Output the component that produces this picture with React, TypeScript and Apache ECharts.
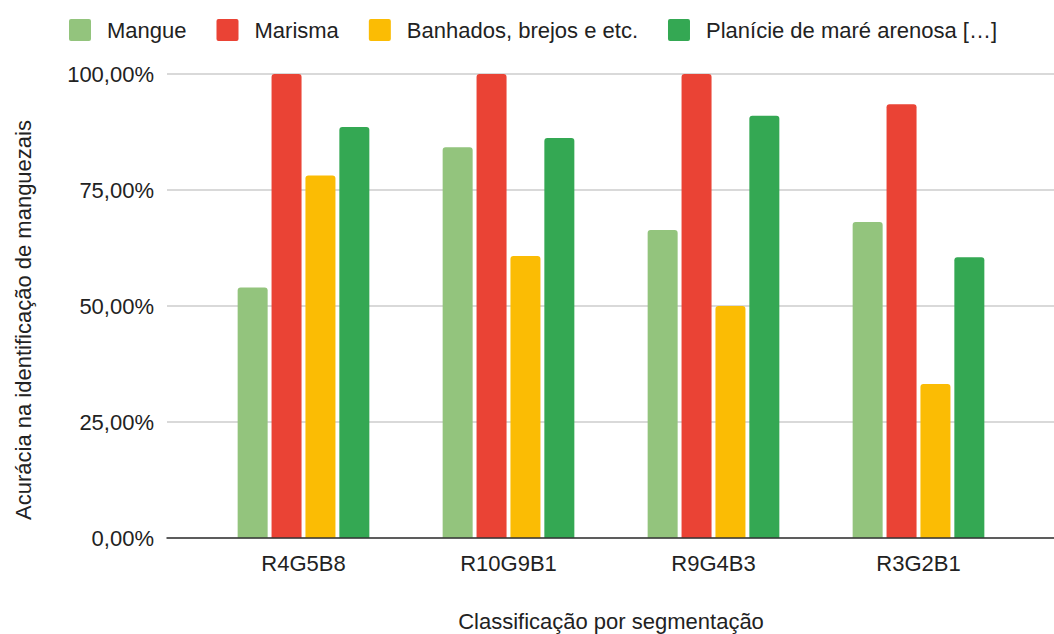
import React, { useEffect, useRef } from "react";
import * as echarts from "echarts";

const categories = ["R4G5B8", "R10G9B1", "R9G4B3", "R3G2B1"];
const seriesNames = ["Mangue", "Marisma", "Banhados, brejos e etc.", "Planície de maré arenosa […]"];
const mangue = [54.0, 84.2, 66.4, 68.1];
const marisma = [100, 100, 100, 93.5];
const banhados = [78.1, 60.8, 50.0, 33.2];
const planicie = [88.6, 86.2, 91.0, 60.5];
const colors = ["#93c47d", "#ea4335", "#fbbc04", "#34a853"];
const yTicks = [0, 25, 50, 75, 100];

const FONT = "'Liberation Sans', Arial, sans-serif";
const TEXT = "#222222";
const FS = 22;
const SQUARE_ICON = "path://M2,0H20A2,2 0 0 1 22,2V20A2,2 0 0 1 20,22H2A2,2 0 0 1 0,20V2A2,2 0 0 1 2,0Z";

export default function App() {
  const ref = useRef<HTMLDivElement>(null);
  useEffect(() => {
    if (!ref.current) return;
    const chart = echarts.init(ref.current, null, { renderer: "svg" });
    const values = [mangue, marisma, banhados, planicie];
    const fmt = (v: number) => v.toFixed(2).replace(".", ",") + "%";
    chart.setOption({
      animation: false,
      color: colors,
      textStyle: { fontFamily: FONT },
      legend: {
        top: 14,
        left: 64,
        itemWidth: 22,
        itemHeight: 22,
        itemGap: 30,
        icon: SQUARE_ICON,
        textStyle: { fontSize: FS, color: TEXT, fontFamily: FONT, padding: [0, 0, 0, 11] },
        data: seriesNames,
      },
      grid: [
        { left: 167, right: 0, top: 74, bottom: 96 },
        { left: 201, right: 33, top: 74, bottom: 96 },
      ],
      xAxis: [
        {
          gridIndex: 0,
          type: "value",
          min: 0,
          max: 1,
          axisLine: { show: true, lineStyle: { color: "#333333", width: 1.5 } },
          axisTick: { show: false },
          axisLabel: { show: false },
          splitLine: { show: false },
          z: 5,
        },
        {
          gridIndex: 1,
          type: "category",
          data: categories,
          axisLine: { show: false },
          axisTick: { show: false },
          axisLabel: { fontSize: FS, color: TEXT, fontFamily: FONT, margin: 14 },
        },
      ],
      yAxis: [
        {
          gridIndex: 0,
          type: "value",
          min: yTicks[0],
          max: yTicks[yTicks.length - 1],
          interval: 25,
          axisLine: { show: false },
          axisTick: { show: false },
          axisLabel: { fontSize: FS, color: TEXT, fontFamily: FONT, margin: 13, formatter: fmt },
          splitLine: { lineStyle: { color: "#cccccc", width: 1.5 } },
        },
        {
          gridIndex: 1,
          type: "value",
          min: 0,
          max: 100,
          interval: 25,
          show: false,
          splitLine: { show: false },
        },
      ],
      series: seriesNames.map((name, i) => ({
        name,
        type: "bar",
        xAxisIndex: 1,
        yAxisIndex: 1,
        data: values[i],
        barWidth: 30,
        barGap: "13%",
        itemStyle: { color: colors[i], borderRadius: [3, 3, 0, 0] },
        z: 3,
      })),
      graphic: [
        {
          type: "text",
          x: 23,
          y: 320,
          rotation: Math.PI / 2,
          style: {
            text: "Acurácia na identificação de manguezais",
            fontSize: FS,
            fontFamily: FONT,
            fill: TEXT,
            align: "center",
            verticalAlign: "middle",
          },
        },
        {
          type: "text",
          x: 611,
          y: 621,
          style: {
            text: "Classificação por segmentação",
            fontSize: FS,
            fontFamily: FONT,
            fill: TEXT,
            align: "center",
            verticalAlign: "middle",
          },
        },
      ],
    });
    return () => chart.dispose();
  }, []);
  return (
    <div
      ref={ref}
      style={{ position: "fixed", left: 0, top: 0, width: 1054, height: 634, background: "#ffffff" }}
    />
  );
}
